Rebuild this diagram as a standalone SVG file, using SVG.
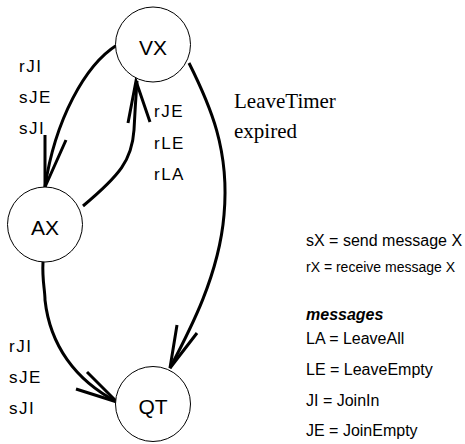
<svg xmlns="http://www.w3.org/2000/svg" width="465" height="444" viewBox="0 0 465 444">
<style>
.node circle{fill:#fff;stroke:#000;stroke-width:1}
.nl{font-family:"Liberation Sans",Arial,sans-serif;font-size:21px;text-anchor:middle;fill:#000}
.edge{fill:none;stroke:#000;stroke-width:3;stroke-linejoin:miter}
.lab{font-family:"Liberation Sans",Arial,sans-serif;font-size:17px;letter-spacing:1.5px;fill:#000}
.tim{font-family:"Liberation Serif","Times New Roman",serif;font-size:21px;fill:#000}
.leg{font-family:"Liberation Sans",Arial,sans-serif;font-size:16px;fill:#000}
.leg.small{font-size:14px}
.leg.head{font-weight:bold;font-style:italic}
</style>
<rect width="465" height="444" fill="#fff"/>
<g id="connectors">
<path class="edge" d="M117,45 C85,65 55,120 45,187"/>
<polyline class="edge" points="45,135 45,187 66,140"/>
<path class="edge" d="M83,206 C120,175 132,160 134,130 C135,110 136,95 137,81"/>
<polyline class="edge" points="128,123 136,81 150,122"/>
<path class="edge" d="M189,63 C210,105 230,150 224,215 C219,275 190,330 170,368"/>
<polyline class="edge" points="177,325 170,368 197,333"/>
<path class="edge" d="M43,262 C42,280 45,290 45,300 C50,345 75,380 117,402"/>
<polyline class="edge" points="87,372 117,402 76,389"/>
</g>
<g id="VX" class="node"><circle cx="153" cy="44.5" r="37.5"/><text class="nl" x="153" y="55">VX</text></g>
<g id="AX" class="node"><circle cx="45" cy="224.5" r="37.5"/><text class="nl" x="45" y="235">AX</text></g>
<g id="QT" class="node"><circle cx="153" cy="404" r="37.5"/><text class="nl" x="153" y="414">QT</text></g>
<g id="labels">
<text class="lab" x="19" y="72">rJI</text>
<text class="lab" x="19" y="103">sJE</text>
<text class="lab" x="19" y="134">sJI</text>
<text class="lab" x="154" y="117">rJE</text>
<text class="lab" x="154" y="148.5">rLE</text>
<text class="lab" x="154" y="180">rLA</text>
<text class="lab" x="9" y="352">rJI</text>
<text class="lab" x="9" y="383">sJE</text>
<text class="lab" x="9" y="414">sJI</text>
<text class="tim" x="234" y="108">LeaveTimer</text>
<text class="tim" x="234" y="138">expired</text>
</g>
<g id="legend">
<text class="leg" x="306" y="246">sX = send message X</text>
<text class="leg small" x="306" y="272">rX = receive message X</text>
<text class="leg head" x="306" y="320">messages</text>
<text class="leg" x="306" y="344">LA = LeaveAll</text>
<text class="leg" x="306" y="375">LE = LeaveEmpty</text>
<text class="leg" x="306" y="406">JI = JoinIn</text>
<text class="leg" x="306" y="436">JE = JoinEmpty</text>
</g>
</svg>
